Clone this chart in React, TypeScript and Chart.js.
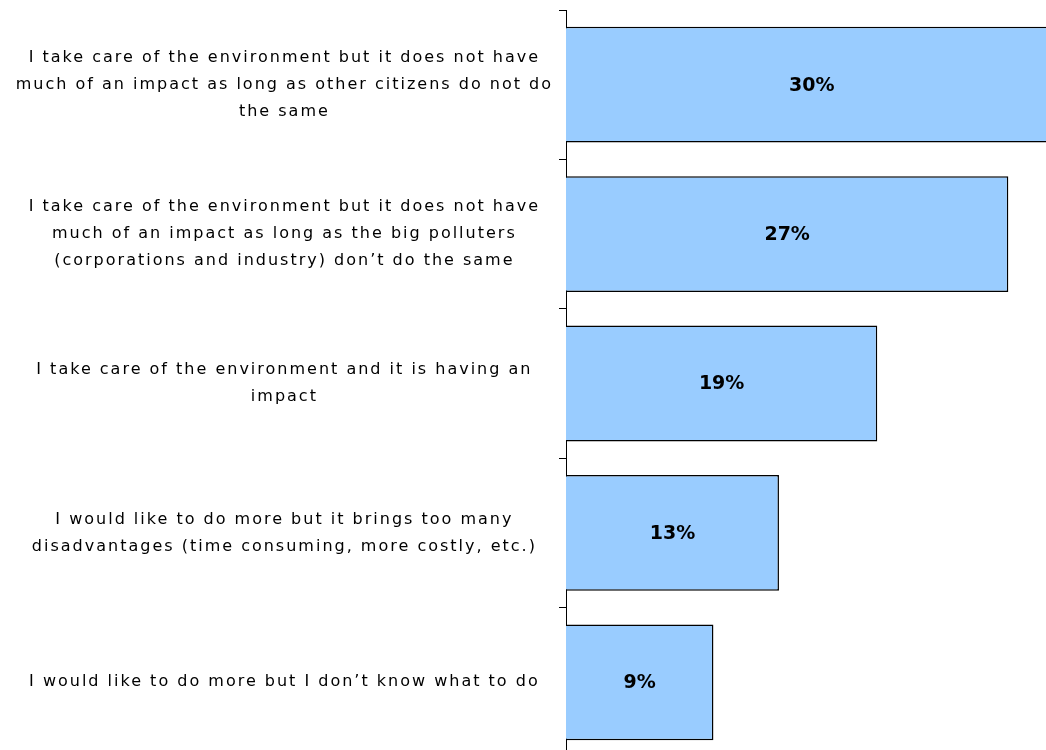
import React, { useEffect, useRef } from "react";
import { Chart, registerables } from "chart.js";

Chart.register(...registerables);

const categories: (string | string[])[] = [
  [
    "I take care of the environment but it does not have",
    "much of an impact as long as other citizens do not do",
    "the same",
  ],
  [
    "I take care of the environment but it does not have",
    "much of an impact as long as the big polluters",
    "(corporations and industry) don\u2019t do the same",
  ],
  ["I take care of the environment and it is having an", "impact"],
  [
    "I would like to do more but it brings too many",
    "disadvantages (time consuming, more costly, etc.)",
  ],
  "I would like to do more but I don\u2019t know what to do",
];

const values: number[] = [30, 27, 19, 13, 9];

const W = 1046;
const H = 757;

const spacingPlugin = {
  id: "letterSpacing",
  beforeLayout(chart: any) {
    (chart.ctx as any).letterSpacing = "2px";
  },
  beforeDraw(chart: any) {
    (chart.ctx as any).letterSpacing = "2px";
  },
};

const valueLabels = {
  id: "valueLabels",
  afterDatasetsDraw(chart: any) {
    const ctx = chart.ctx;
    const meta = chart.getDatasetMeta(0);
    ctx.save();
    (ctx as any).letterSpacing = "0px";
    ctx.font = "bold 19px 'DejaVu Sans'";
    ctx.fillStyle = "#000000";
    ctx.textAlign = "center";
    ctx.textBaseline = "middle";
    meta.data.forEach((bar: any, i: number) => {
      const p = bar.getProps(["x", "y", "base"], true);
      const cx = (p.x + p.base) / 2;
      ctx.fillText(values[i] + "%", cx, p.y + 1);
    });
    ctx.restore();
  },
};

export default function App() {
  const ref = useRef<HTMLCanvasElement | null>(null);

  useEffect(() => {
    if (!ref.current) return;
    const chart = new Chart(ref.current, {
      type: "bar",
      data: {
        labels: categories,
        datasets: [
          {
            data: values,
            backgroundColor: "#99CCFF",
            borderColor: "#000000",
            borderWidth: 1.5,
            categoryPercentage: 1,
            barPercentage: 0.775,
          },
        ],
      },
      options: {
        indexAxis: "y",
        responsive: false,
        animation: false,
        devicePixelRatio: 1,
        layout: { padding: { top: 10, bottom: 0, left: 0, right: 0 } },
        plugins: {
          legend: { display: false },
          tooltip: { enabled: false },
        },
        scales: {
          x: {
            display: false,
            min: 0,
            max: 29.3,
          },
          y: {
            type: "category",
            offset: true,
            afterFit(scale: any) {
              scale.width = 566;
              scale.paddingTop = 0;
              scale.paddingBottom = 0;
            },
            border: { display: true, color: "#000000", width: 1 },
            grid: {
              offset: true,
              drawOnChartArea: false,
              drawTicks: true,
              tickLength: 7,
              color: "#000000",
              lineWidth: 1,
            },
            ticks: {
              crossAlign: "center",
              padding: 6,
              color: "#000000",
              font: { family: "'DejaVu Sans'", size: 16, lineHeight: 1.6875 },
              autoSkip: false,
            },
          },
        },
      },
      plugins: [spacingPlugin, valueLabels],
    } as any);
    return () => chart.destroy();
  }, []);

  return (
    <div style={{ position: "absolute", left: 0, top: 0, width: W, height: H }}>
      <canvas
        ref={ref}
        width={W}
        height={H}
        style={{ display: "block", width: W, height: H }}
      />
    </div>
  );
}
